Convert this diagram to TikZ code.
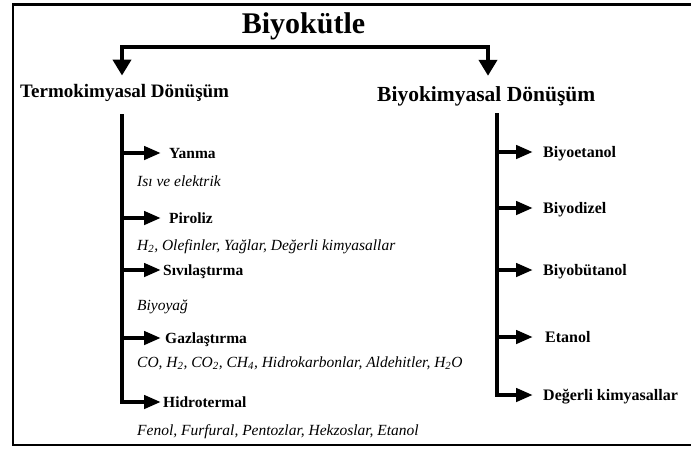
\documentclass[tikz,border=0pt]{standalone}
\usepackage{fontspec}
\setmainfont{Liberation Serif}
\usetikzlibrary{arrows.meta}

\tikzset{
    frame/.style={line width=2.5pt},
    updown/.style={line width=4.5pt,
        {Triangle[length=16pt,width=18pt]}-{Triangle[length=16pt,width=18pt]}},
    branch/.style={line width=4.5pt,-{Triangle[length=17pt,width=13pt]}},
    title/.style={anchor=base,inner sep=0pt,font=\bfseries\fontsize{30}{36}\selectfont},
    heading/.style={anchor=west,inner xsep=0pt,inner ysep=9pt,text height=12.5pt,text depth=0pt,
        font=\bfseries\fontsize{19}{23}\selectfont},
    item/.style={anchor=west,inner sep=0pt,text height=10pt,text depth=0pt,
        font=\bfseries\fontsize{15.5}{19}\selectfont},
    note/.style={anchor=west,inner sep=0pt,text height=10pt,text depth=0pt,
        font=\itshape\fontsize{15.5}{19}\selectfont},
}

\begin{document}
\begin{tikzpicture}[x=1pt,y=-1pt]
            \useasboundingbox (0,0) rectangle (691,448);

            \coordinate (TL) at (122,47);
            \coordinate (TR) at (488,47);
            \coordinate (LS) at (122,114);
            \coordinate (LT) at (161,114);
            \coordinate (RS) at (497,113);
            \coordinate (RT) at (533,113);

            \draw[frame] (691,4.5) -- (13,4.5) -- (13,445) -- (691,445);

            \node[title] (bio) at (303.5,33.5) {Biyokütle};
            \node[heading] (termo) at (20,91) {Termokimyasal Dönüşüm};
            \node[heading,inner ysep=11pt,text height=14pt,
                font=\bfseries\fontsize{21.5}{25}\selectfont] (biyo) at (377,94) {Biyokimyasal Dönüşüm};

            \draw[updown] (TL |- termo.north) -- (TL) -- (TR) -- (TR |- biyo.north);

            % termokimyasal
            \foreach \n/\y/\x/\txt in {
                yanma/153/169/Yanma,piroliz/218/169/Piroliz,
                sivi/270/163/Sıvılaştırma,gaz/338/165/Gazlaştırma
            }{
                \node[item] (\n) at (\x,\y) {\txt};
                \draw[branch] (LS |- \n) -- (LT |- \n);
            }
            \node[item] (hidro) at (163,402) {Hidrotermal};
            \draw[branch] (LS) -- (LS |- hidro) -- (LT |- hidro);

            \foreach \n/\y/\txt in {
                isi/181/{Isı ve elektrik},
                pirout/245/{H\textsubscript{2}, Olefinler, Yağlar, Değerli kimyasallar},
                sivout/305/{Biyoyağ},
                gazout/362/{CO, H\textsubscript{2}, CO\textsubscript{2}, CH\textsubscript{4}, Hidrokarbonlar, Aldehitler, H\textsubscript{2}O},
                hidout/430/{Fenol, Furfural, Pentozlar, Hekzoslar, Etanol}
            }{
                \node[note] (\n) at (137,\y) {\txt};
            }

            % biyokimyasal
            \foreach \n/\y/\x/\txt in {
                betanol/152/543/Biyoetanol,bdizel/208/543/Biyodizel,
                bbutanol/270/543/Biyobütanol,etanol/337/545/Etanol
            }{
                \node[item,font=\bfseries\fontsize{16}{19}\selectfont] (\n) at (\x,\y) {\txt};
                \draw[branch] (RS |- \n) -- (RT |- \n);
            }
            \node[item,font=\bfseries\fontsize{16}{19}\selectfont] (kimya) at (543,395) {Değerli kimyasallar};
            \draw[branch] (RS) -- (RS |- kimya) -- (RT |- kimya);
        \end{tikzpicture}
\end{document}
